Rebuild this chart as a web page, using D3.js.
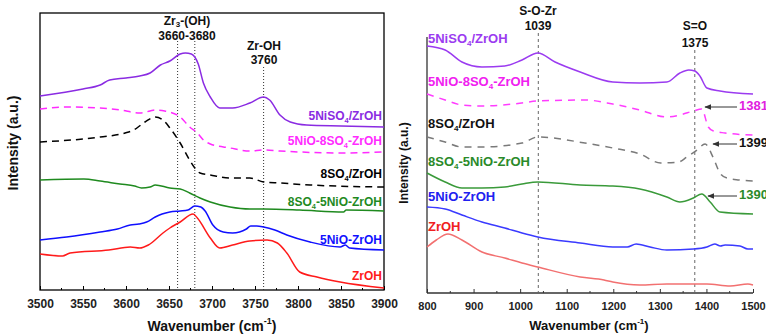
<!DOCTYPE html>
<html><head><meta charset="utf-8">
<script src="https://cdn.jsdelivr.net/npm/d3@7"></script>
<style>
body{margin:0;background:#fff;}
svg text{font-family:"Liberation Sans",Arial,sans-serif;font-weight:bold;}
</style></head>
<body><svg id="c" width="766" height="336"></svg>
<script>
// ---------- LEFT PANEL DATA (wavenumber, intensity a.u.) ----------
const leftSeriesNames = ["5NiSO4/ZrOH","5NiO-8SO4-ZrOH","8SO4/ZrOH","8SO4-5NiO-ZrOH","5NiO-ZrOH","ZrOH"];
const L_NiSO4 = [[3500,194],[3550,201],[3570,205],[3581,210],[3600,212],[3616,214],[3628,217],[3640,225],[3651,229],[3663,236],[3669,237],[3676,236],[3680,233],[3684,226],[3690,207],[3698,193],[3709,182],[3724,182],[3744,187],[3760,193],[3767,190],[3779,175],[3791,168],[3810,165],[3850,164],[3900,163]];
const L_NiO8SO4 = [[3500,181],[3532,183],[3570,182],[3593,180],[3616,177],[3628,179],[3634,180],[3645,179],[3663,173],[3674,163],[3683,157],[3690,150],[3698,146],[3721,142],[3744,139],[3760,140],[3779,139],[3802,138],[3849,137],[3900,138]];
const L_8SO4 = [[3500,148],[3570,153],[3599,157],[3609,160],[3622,168],[3634,173],[3643,170],[3651,162],[3663,147],[3674,130],[3680,122],[3686,117],[3698,115],[3721,112],[3744,112],[3760,108],[3779,107],[3814,105],[3900,103]];
const L_8SO4NiO = [[3500,110],[3551,111],[3570,109],[3593,106],[3610,104],[3618,102],[3628,103],[3634,105],[3651,102],[3663,101],[3674,97],[3686,92],[3698,88],[3721,83],[3744,81],[3760,81],[3802,80],[3853,78],[3856,80],[3900,79]];
const L_NiO = [[3500,50],[3531,53],[3570,58],[3590,61],[3605,65],[3615,66],[3624,68],[3634,73],[3642,76],[3651,78],[3663,79],[3672,80],[3680,84],[3687,83],[3692,79],[3701,65],[3713,58],[3724,57],[3740,61],[3745,64],[3752,64],[3760,63],[3773,60],[3787,55],[3814,48],[3849,43],[3855,45],[3860,42],[3900,40]];
const L_ZrOH = [[3500,36],[3526,34],[3535,37],[3580,40],[3605,43],[3616,42],[3626,45],[3643,57],[3651,62],[3663,68],[3678,76],[3683,72],[3698,52],[3709,42],[3724,45],[3744,49],[3764,50],[3776,47],[3787,37],[3802,18],[3822,13],[3849,8],[3900,2]];
const leftTicks = [3500,3550,3600,3650,3700,3750,3800,3850,3900];
const leftMarkers = [3660,3680,3760];

// ---------- RIGHT PANEL DATA ----------
const R_NiSO4 = [[800,247],[839,243],[875,231],[918,226],[967,227],[1004,233],[1038,240],[1075,231],[1129,221],[1199,211],[1257,210],[1315,211],[1343,220],[1362,223],[1375,222],[1386,217],[1401,205],[1429,202],[1500,199]];
const R_NiO8SO4 = [[800,199],[839,193],[875,188],[918,187],[1004,190],[1038,192],[1139,193],[1199,189],[1257,183],[1315,176],[1343,178],[1372,182],[1390,184],[1404,166],[1415,162],[1440,160],[1500,158]];
const R_8SO4 = [[800,156],[839,151],[875,146],[918,146],[1004,150],[1038,156],[1139,150],[1199,145],[1257,139],[1302,130],[1340,131],[1358,136],[1380,143],[1397,149],[1414,136],[1429,120],[1444,115],[1470,113],[1500,112]];
const R_8SO4NiO = [[800,120],[839,111],[875,105],[918,105],[967,106],[1004,109],[1038,111],[1129,108],[1199,107],[1257,104],[1315,96],[1343,91],[1372,95],[1390,99],[1408,91],[1429,81],[1500,79]];
const R_NiO = [[800,86],[839,84],[875,78],[918,71],[967,65],[1004,60],[1038,56],[1129,50],[1199,46],[1230,46],[1249,49],[1279,46],[1315,43],[1372,44],[1401,46],[1418,49],[1430,47],[1440,48],[1472,47],[1489,44],[1500,44]];
const R_ZrOH = [[800,46],[820,53],[845,59],[875,53],[918,41],[967,35],[1004,30],[1038,26],[1129,16],[1180,13],[1199,11],[1257,8],[1315,9],[1401,9],[1451,7],[1489,9],[1500,8]];
const rightTicks = [800,900,1000,1100,1200,1300,1400,1500];
const rightMarkers = [1039,1375];

const svg = d3.select("#c");

function labelText(g, x, y, name, color, anchor, size){
  const t = g.append("text").attr("x",x).attr("y",y).attr("fill",color)
    .attr("text-anchor",anchor).attr("font-size",size).attr("dominant-baseline","middle");
  const pieces = name.split("SO4");
  pieces.forEach((p,i)=>{
    const sp = t.append("tspan").text(p + (i<pieces.length-1?"SO":""));
    if(i>0) sp.attr("dy",-4);
    if(i<pieces.length-1) t.append("tspan").text("4").attr("font-size",size*0.62).attr("dy",4);
  });
  return t;
}

// ================= LEFT PANEL =================
const L = {x0:40,x1:384,y0:13,y1:290};
const xL = d3.scaleLinear().domain([3500,3900]).range([L.x0,L.x1]);
const yL = d3.scaleLinear().domain([0,277]).range([L.y1,L.y0]);
const gL = svg.append("g");
gL.append("rect").attr("x",L.x0).attr("y",L.y0).attr("width",L.x1-L.x0).attr("height",L.y1-L.y0)
  .attr("fill","none").attr("stroke","#000").attr("stroke-width",1.3);
const axL = d3.axisBottom(xL).tickValues(leftTicks).tickSize(-4).tickPadding(9).tickFormat(d3.format("d"));
const axLg = gL.append("g").attr("transform",`translate(0,${L.y1})`).call(axL);
axLg.select(".domain").remove();
axLg.selectAll("text").attr("font-size",12).attr("fill","#222").style("font-family","Liberation Sans, Arial").style("font-weight","bold");
axLg.selectAll("line").attr("stroke","#000");
const minorL = d3.range(3525,3900,50);
gL.selectAll(".mnL").data(minorL).enter().append("line").attr("x1",d=>xL(d)).attr("x2",d=>xL(d))
  .attr("y1",L.y1).attr("y2",L.y1-2).attr("stroke","#000");
gL.selectAll(".mkL").data(leftMarkers).enter().append("line")
  .attr("x1",d=>xL(d)).attr("x2",d=>xL(d)).attr("y1",d=>d===3760?67:41).attr("y2",L.y1)
  .attr("stroke","#333").attr("stroke-width",1).attr("stroke-dasharray","1,2");
const zr = gL.append("text").attr("x",187).attr("y",22).attr("text-anchor","middle").attr("font-size",12).attr("fill","#111").attr("dominant-baseline","middle");
zr.append("tspan").text("Zr");
zr.append("tspan").text("3").attr("font-size",8).attr("dy",3);
zr.append("tspan").text("-(OH)").attr("dy",-3);
gL.append("text").attr("x",187).attr("y",37).attr("text-anchor","middle").attr("font-size",12).attr("fill","#111").attr("dominant-baseline","middle").text("3660-3680");
gL.append("text").attr("x",264).attr("y",47).attr("text-anchor","middle").attr("font-size",12).attr("fill","#111").attr("dominant-baseline","middle").text("Zr-OH");
gL.append("text").attr("x",264).attr("y",61).attr("text-anchor","middle").attr("font-size",12).attr("fill","#111").attr("dominant-baseline","middle").text("3760");

const lineL = d3.line().x(d=>xL(d[0])).y(d=>yL(d[1])).curve(d3.curveMonotoneX);
const leftDefs = [
  {d:L_NiSO4,c:"#8a2be2",dash:null,ly:117},
  {d:L_NiO8SO4,c:"#ff2bff",dash:"7,5",ly:142},
  {d:L_8SO4,c:"#000",dash:"7,5",ly:175},
  {d:L_8SO4NiO,c:"#1f8a1f",dash:null,ly:203},
  {d:L_NiO,c:"#1010ff",dash:null,ly:241},
  {d:L_ZrOH,c:"#ff1a1a",dash:null,ly:277},
];
leftDefs.forEach((s,i)=>{
  gL.append("path").attr("d",lineL(s.d)).attr("fill","none").attr("stroke",s.c)
    .attr("stroke-width",1.5).attr("stroke-dasharray",s.dash);
  labelText(gL, 382, s.ly, leftSeriesNames[i], s.c, "end", 12);
});
gL.append("text").attr("transform","translate(14,143) rotate(-90)").attr("text-anchor","middle")
  .attr("dominant-baseline","middle").attr("font-size",14).attr("fill","#111").text("Intensity (a.u.)");
const tL = gL.append("text").attr("x",212).attr("y",327).attr("text-anchor","middle").attr("font-size",14).attr("fill","#111").attr("dominant-baseline","middle");
tL.append("tspan").text("Wavenumber (cm");
tL.append("tspan").text("-1").attr("font-size",9).attr("dy",-5);
tL.append("tspan").text(")").attr("dy",5);

// ================= RIGHT PANEL =================
const R = {x0:427,x1:753,y0:37,y1:293};
const xR = d3.scaleLinear().domain([800,1500]).range([R.x0,R.x1]);
const yR = d3.scaleLinear().domain([0,256]).range([R.y1,R.y0]);
const gR = svg.append("g");
gR.append("line").attr("x1",R.x0).attr("x2",R.x0).attr("y1",R.y0).attr("y2",R.y1).attr("stroke","#333").attr("stroke-width",1.3);
gR.append("line").attr("x1",R.x0).attr("x2",R.x1).attr("y1",R.y1).attr("y2",R.y1).attr("stroke","#333").attr("stroke-width",1.3);
const axR = d3.axisBottom(xR).tickValues(rightTicks).tickSize(-4).tickPadding(9).tickFormat(d3.format("d"));
const axRg = gR.append("g").attr("transform",`translate(0,${R.y1})`).call(axR);
axRg.select(".domain").remove();
axRg.selectAll("text").attr("font-size",11).attr("fill","#222").style("font-family","Liberation Sans, Arial").style("font-weight","bold");
axRg.selectAll("line").attr("stroke","#333");
gR.selectAll(".mnR").data(d3.range(850,1500,100)).enter().append("line").attr("x1",d=>xR(d)).attr("x2",d=>xR(d))
  .attr("y1",R.y1).attr("y2",R.y1-2).attr("stroke","#333");
gR.selectAll(".mkR").data(rightMarkers).enter().append("line")
  .attr("x1",d=>xR(d)).attr("x2",d=>xR(d)).attr("y1",d=>d===1039?33:50).attr("y2",R.y1)
  .attr("stroke","#666").attr("stroke-width",1).attr("stroke-dasharray","3,3");
[["S-O-Zr",538,12],["1039",538,27],["S=O",695,27],["1375",695,44]].forEach(a=>{
  gR.append("text").attr("x",a[1]).attr("y",a[2]).attr("text-anchor","middle").attr("font-size",12)
    .attr("fill","#111").attr("dominant-baseline","middle").text(a[0]);
});
const lineR = d3.line().x(d=>xR(d[0])).y(d=>yR(d[1])).curve(d3.curveMonotoneX);
const rightDefs = [
  {d:R_NiSO4,c:"#9b3bf0",dash:null,ly:40},
  {d:R_NiO8SO4,c:"#ff3cff",dash:"7,6",ly:83,lc:"#f020f0"},
  {d:R_8SO4,c:"#7a7a7a",dash:"7,6",ly:125,lc:"#111"},
  {d:R_8SO4NiO,c:"#3a9a3a",dash:null,ly:163,lc:"#2a8a2a"},
  {d:R_NiO,c:"#3a3aff",dash:null,ly:198,lc:"#2020f0"},
  {d:R_ZrOH,c:"#f27070",dash:null,ly:228,lc:"#f02020"},
];
rightDefs.forEach((s,i)=>{
  gR.append("path").attr("d",lineR(s.d)).attr("fill","none").attr("stroke",s.c)
    .attr("stroke-width",1.5).attr("stroke-dasharray",s.dash);
  labelText(gR, 428, s.ly, leftSeriesNames[i], s.lc||s.c, "start", 13);
});
const defs = svg.append("defs");
defs.append("marker").attr("id","ah").attr("viewBox","0 0 10 10").attr("refX",9).attr("refY",5)
  .attr("markerWidth",7).attr("markerHeight",7).attr("orient","auto-start-reverse")
  .append("path").attr("d","M0,1 L10,5 L0,9 z").attr("fill","#333");
[[1381,107,705,"#e020e0"],[1399,144,713,"#111"],[1390,196,708,"#2a8a2a"]].forEach(a=>{
  gR.append("line").attr("x1",737).attr("x2",a[2]).attr("y1",a[1]).attr("y2",a[1])
    .attr("stroke","#333").attr("stroke-width",1).attr("marker-end","url(#ah)");
  gR.append("text").attr("x",739).attr("y",a[1]).attr("font-size",13).attr("fill",a[3])
    .attr("dominant-baseline","middle").text(a[0]);
});
gR.append("text").attr("transform","translate(405,163) rotate(-90)").attr("text-anchor","middle")
  .attr("dominant-baseline","middle").attr("font-size",12).attr("fill","#111").text("Intensity (a.u.)");
const tR = gR.append("text").attr("x",589).attr("y",327).attr("text-anchor","middle").attr("font-size",13).attr("fill","#111").attr("dominant-baseline","middle");
tR.append("tspan").text("Wavenumber (cm");
tR.append("tspan").text("-1").attr("font-size",8).attr("dy",-5);
tR.append("tspan").text(")").attr("dy",5);
</script></body></html>
